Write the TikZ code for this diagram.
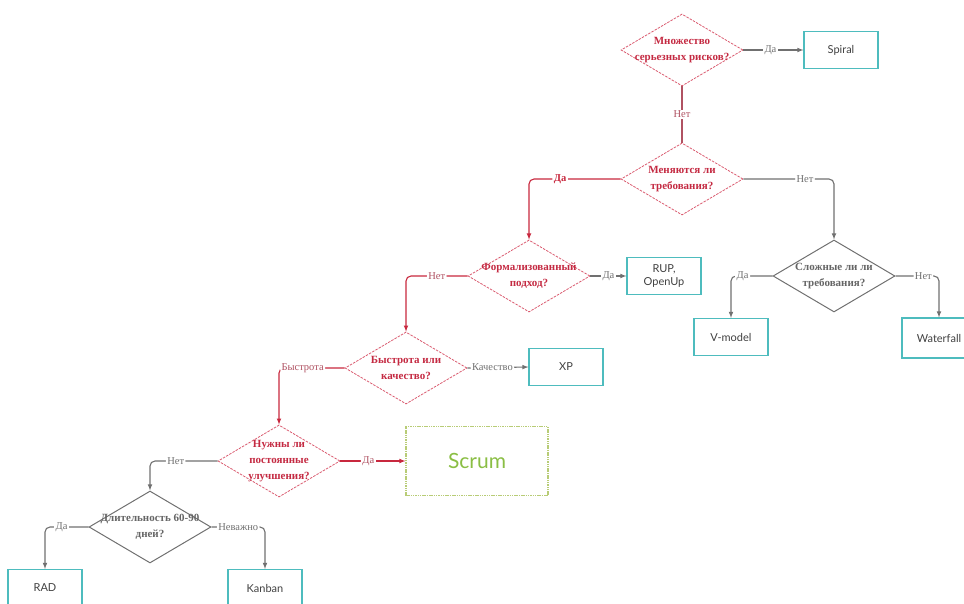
\documentclass[tikz,border=0pt]{standalone}
\usepackage{fontspec}
\setmainfont{Liberation Serif}
\newfontfamily\boxfont{Lato}
\usetikzlibrary{arrows,shapes}
\definecolor{qred}{RGB}{218,92,112}
\definecolor{qtext}{RGB}{196,42,66}
\definecolor{lred}{RGB}{200,40,62}
\definecolor{lrose}{RGB}{176,82,98}
\definecolor{qgray}{RGB}{112,112,112}
\definecolor{boxteal}{RGB}{78,188,190}
\definecolor{scrumgreen}{RGB}{138,190,68}
\definecolor{scrumedge}{RGB}{184,204,118}
\newcommand*{\qfont}{\bfseries\fontsize{11}{16}\selectfont}
\newcommand*{\lblfont}{\fontsize{10.5}{12}\selectfont}
\tikzstyle{redq}=[diamond, draw=qred, line width=0.8pt, dash pattern=on 2.5pt off 1.2pt,
  minimum width=122pt, minimum height=72pt, inner sep=0pt]
\tikzstyle{grayq}=[diamond, draw=qgray, line width=1pt,
  minimum width=122pt, minimum height=72pt, inner sep=0pt]
\tikzstyle{rtxt}=[font=\qfont, text=qtext, align=center]
\tikzstyle{gtxt}=[font=\qfont, text=qgray!90!black, align=center]
\tikzstyle{res}=[draw=boxteal, line width=1.1pt, minimum width=74pt, minimum height=37pt,
  font=\boxfont\fontsize{11}{13}\selectfont, text=black!75, align=center]
\tikzstyle{redline}=[draw=lred, line width=1.1pt, rounded corners=5pt]
\tikzstyle{roseline}=[draw=lrose, line width=1.1pt]
\tikzstyle{grayline}=[draw=qgray, line width=1.1pt, rounded corners=5pt]
\tikzstyle{lbl}=[fill=white, inner sep=1.5pt, font=\lblfont, text=qgray]
\tikzstyle{rlbl}=[fill=white, inner sep=1.5pt, font=\lblfont, text=lrose]

\begin{document}
\begin{tikzpicture}[x=1pt,y=-1pt]
	\useasboundingbox (0,0) rectangle (964,604);
	% questions
	\node[redq] (q1) at (682,50) [label={[rtxt]center:Множество\\серьезных рисков?}] {};
	\node[redq] (q2) at (682,179) [label={[rtxt]center:Меняются ли\\требования?}] {};
	\node[redq] (q3) at (529,276) [label={[rtxt]center:Формализованный\\подход?}] {};
	\node[grayq] (q4) at (834,276) [label={[gtxt]center:Сложные ли ли\\требования?}] {};
	\node[redq] (q5) at (406,368) [label={[rtxt]center:Быстрота или\\качество?}] {};
	\node[redq] (q6) at (279,461) [label={[rtxt]center:Нужны ли\\постоянные\\улучшения?}] {};
	\node[grayq] (q7) at (150,527) [label={[gtxt]center:Длительность 60-90\\дней?}] {};
	% answers
	\node[res] (spiral) at (841,50) {Spiral};
	\node[res] (rup) at (664,276) {RUP,\\OpenUp};
	\node[res] (vmodel) at (731,337) {V-model};
	\node[res, minimum height=40pt] (waterfall) at (939,338) {Waterfall};
	\node[res] (xp) at (566,367) {XP};
	\node[draw=scrumedge, line width=1.1pt, dash pattern=on 1.5pt off 0.8pt,
	minimum width=142pt, minimum height=69pt, text=scrumgreen,
	font=\boxfont\fontsize{21}{24}\selectfont] (scrum) at (477,461) {Scrum};
	\node[res] (rad) at (45,588) {RAD};
	\node[res] (kanban) at (265,588) {Kanban};
	% connectors
	\draw[grayline, -latex] (q1.east) -- node[lbl, pos=0.45]{Да} (spiral.west);
	\draw[roseline] (q1.south) -- node[rlbl]{Нет} (q2.north);
	\draw[redline, -latex] (q2.west) -| node[rlbl, pos=0.33, font=\lblfont\bfseries, text=lred]{Да} (q3.north);
	\draw[grayline, -latex] (q2.east) -| node[lbl, pos=0.34]{Нет} (q4.north);
	\draw[grayline, -latex] (q3.east) -- node[lbl]{Да} (rup.west);
	\draw[redline, -latex] (q3.west) -| node[rlbl, pos=0.25]{Нет} (q5.north);
	\draw[grayline, -latex] (q4.west) -| node[lbl, pos=0.36]{Да} (vmodel.north);
	\draw[grayline, -latex] (q4.east) -| node[lbl, pos=0.32]{Нет} (waterfall.north);
	\draw[grayline, -latex] (q5.east) -- node[lbl, pos=0.41]{Качество} (xp.west);
	\draw[redline, -latex] (q5.west) -| node[rlbl, pos=0.32]{Быстрота} (q6.north);
	\draw[redline, -latex] (q6.east) -- node[rlbl, pos=0.43]{Да} (scrum.west);
	\draw[grayline, -latex] (q6.west) -| node[lbl, pos=0.31]{Нет} (q7.north);
	\draw[grayline, -latex] (q7.west) -| node[lbl, pos=0.31]{Да} (rad.north);
	\draw[grayline, -latex] (q7.east) -| node[lbl, pos=0.25]{Неважно} (kanban.north);
\end{tikzpicture}
\end{document}
